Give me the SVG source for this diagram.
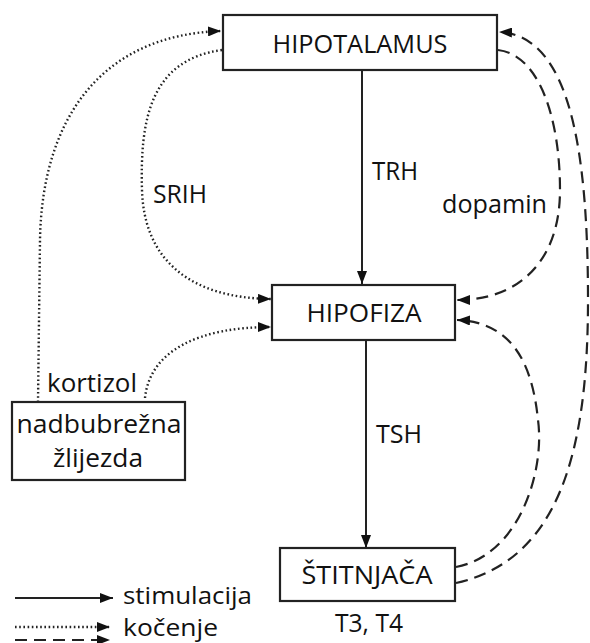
<svg xmlns="http://www.w3.org/2000/svg" width="590" height="643" viewBox="0 0 590 643">
<style>
.box{fill:#fff;stroke:#222;stroke-width:2.2}
.t{font-family:"Open Sans","Noto Sans",sans-serif;font-size:26px;fill:#111}
.lg{font-size:24px}
.c{text-anchor:middle}
.solid{fill:none;stroke:#222;stroke-width:2}
.dot{fill:none;stroke:#222;stroke-width:2.4;stroke-dasharray:1.6 2.6}
.dash{fill:none;stroke:#222;stroke-width:2.2;stroke-dasharray:12 7}
</style>
<defs>
<marker id="ah" markerUnits="userSpaceOnUse" markerWidth="14" markerHeight="10" refX="13" refY="5" orient="auto">
<path d="M0,0 L13,5 L0,10 z" fill="#111"/>
</marker>
</defs>
<rect width="590" height="643" fill="#fff"/>
<g id="connectors">
<path class="solid" d="M362,70 L362,284" marker-end="url(#ah)"/>
<path class="solid" d="M366,340 L366,548" marker-end="url(#ah)"/>
<path class="dot" d="M38,402 L40,240 C42,120 100,35 221,31" marker-end="url(#ah)"/>
<path class="dot" d="M222,50 C150,60 140,120 142,190 C144,260 190,298 271,299" marker-end="url(#ah)"/>
<path class="dot" d="M145,398 C150,350 200,327 271,327" marker-end="url(#ah)"/>
<path class="dash" d="M498,50 C540,55 560,120 560,190 C560,260 520,300 457,300" marker-end="url(#ah)"/>
<path class="dash" d="M456,567 C520,555 545,470 538,420 C532,360 510,322 457,320" marker-end="url(#ah)"/>
<path class="dash" d="M456,583 C560,560 588,450 588,300 C588,150 570,35 499,32" marker-end="url(#ah)"/>
</g>
<g id="hipotalamus">
<rect class="box" x="223" y="15" width="274" height="55"/>
<text class="t c" x="360" y="53" textLength="175" lengthAdjust="spacingAndGlyphs">HIPOTALAMUS</text>
</g>
<g id="hipofiza">
<rect class="box" x="272" y="285" width="183" height="55"/>
<text class="t c" x="364" y="322" textLength="115" lengthAdjust="spacingAndGlyphs">HIPOFIZA</text>
</g>
<g id="stitnjaca">
<rect class="box" x="280" y="548" width="175" height="53"/>
<text class="t c" x="367" y="584" textLength="131" lengthAdjust="spacingAndGlyphs">ŠTITNJAČA</text>
</g>
<g id="nadbubrezna">
<rect class="box" x="12" y="402" width="173" height="78"/>
<text class="t c" x="99" y="433" textLength="165" lengthAdjust="spacingAndGlyphs">nadbubrežna</text>
<text class="t c" x="98" y="467" textLength="90" lengthAdjust="spacingAndGlyphs">žlijezda</text>
</g>
<g id="labels">
<text class="t" x="372" y="180" textLength="46" lengthAdjust="spacingAndGlyphs">TRH</text>
<text class="t" x="442" y="213" textLength="105" lengthAdjust="spacingAndGlyphs">dopamin</text>
<text class="t" x="153" y="203" textLength="54" lengthAdjust="spacingAndGlyphs">SRIH</text>
<text class="t" x="376" y="443" textLength="46" lengthAdjust="spacingAndGlyphs">TSH</text>
<text class="t" x="47" y="392" textLength="90" lengthAdjust="spacingAndGlyphs">kortizol</text>
<text class="t c" x="369" y="632" textLength="68" lengthAdjust="spacingAndGlyphs">T3, T4</text>
</g>
<g id="legend">
<path class="solid" d="M15,598 L113,598" marker-end="url(#ah)"/>
<path class="dot" d="M15,627 L110,627" marker-end="url(#ah)"/>
<path class="dash" d="M15,640 L110,640" marker-end="url(#ah)"/>
<text class="t lg" x="123" y="604" textLength="129" lengthAdjust="spacingAndGlyphs">stimulacija</text>
<text class="t lg" x="123" y="636" textLength="95" lengthAdjust="spacingAndGlyphs">kočenje</text>
</g>
</svg>
